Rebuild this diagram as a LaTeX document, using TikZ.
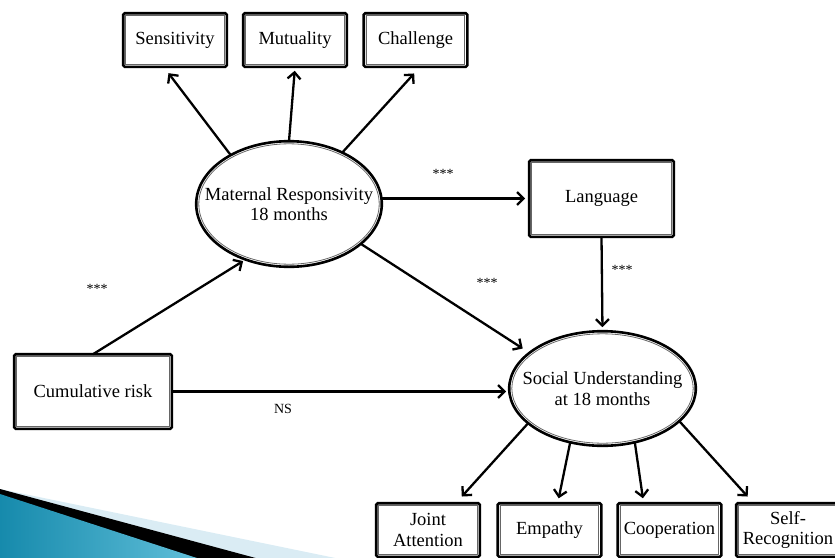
\documentclass[tikz,border=0pt]{standalone}
\usepackage{fontspec}
\setmainfont{Liberation Serif}
\usetikzlibrary{arrows,arrows.meta,shapes.geometric}

\definecolor{swooshlight}{RGB}{218,236,244}
\definecolor{swooshdark}{RGB}{22,138,172}
\definecolor{swooshmid}{RGB}{98,192,218}

\begin{document}
\begin{tikzpicture}[x=1pt,y=-1pt,font=\fontsize{18.5}{20.5}\selectfont]
\tikzstyle{block} = [rectangle, draw=black!60, line width=0.8pt, align=center,
minimum width=98.4pt, minimum height=48.4pt, inner sep=1pt, outer sep=2.6pt]
\tikzstyle{latent} = [ellipse, draw=black!60, line width=0.8pt, align=center,
inner xsep=-30pt, inner ysep=-8pt, outer sep=2.6pt]
\tikzstyle{frame} = [draw=black, line width=2.6pt, rounded corners=1.5pt]
\tikzstyle{stars} = [font=\fontsize{14}{14}\selectfont, inner sep=1pt]
\tikzstyle{line} = [draw, line width=2.3pt, -{Straight Barb[length=6.5pt,width=13pt]}]

\useasboundingbox (0,0) rectangle (835,557);

% slide swoosh
\fill[swooshlight] (0,489) -- (345,560) -- (0,560) -- cycle;
\fill[black] (0,489) -- (263,560) -- (0,560) -- cycle;
\shade[left color=swooshdark, right color=swooshmid] (0,494) -- (203,560) -- (0,560) -- cycle;

% row 1
\node [block] (sens) at (175,40) {Sensitivity};
\node [block] (mutu) at (295,40) {Mutuality};
\node [block] (chal) at (415.5,40) {Challenge};
% row 2
\node [latent, minimum width=180.4pt, minimum height=120.4pt] (mr) at (289,204)
{Maternal Responsivity\\18 months};
\node [block, minimum width=139.4pt, minimum height=71.4pt] (lang) at (601.5,198.5) {Language};
% row 3
\node [block, minimum width=152.4pt, minimum height=69.4pt] (risk) at (93,391.5) {Cumulative risk};
\node [latent, minimum width=181.4pt, minimum height=109.4pt] (su) at (602.5,388.5)
{Social Understanding\\at 18 months};
% row 4
\node [block] (joint) at (428,530) {Joint\\Attention};
\node [block] (empa) at (549.5,530) {Empathy};
\node [block] (coop) at (669.5,530) {Cooperation};
\node [block] (self) at (788,530) {Self-\\Recognition};

% outer frames
\foreach \n in {sens,mutu,chal,lang,risk,joint,empa,coop,self}
  \draw[frame] (\n.south west) rectangle (\n.north east);
\draw[frame] (mr.center) ellipse [x radius=92.8pt, y radius=62.8pt];
\draw[frame] (su.center) ellipse [x radius=93.3pt, y radius=57.3pt];

% path labels
\node [stars] (mrlang) at (443,174) {***};
\node [stars] (mrsu) at (487,283) {***};
\node [stars] (langsu) at (622,270) {***};
\node [stars] (riskmr) at (97,289) {***};
\node [stars] (risksu) at (283,409) {NS};

\tikzstyle{every path}=[line]
\path (mr.140) -- (sens.-113) [shorten >=8pt];
\path (mr.north) -- (mutu.south) [shorten >=4pt];
\path (mr.44) -- (chal.-80) [shorten >=9pt];
\path (mr.east |- lang.west) -- (lang.west) [shorten >=4pt];
\path (lang.south) -- (su.north) [shorten >=4pt];
\path (mr.-29) -- (su.154) [shorten >=8pt];
\path (risk.north) -- (mr.-128) [shorten >=3pt];
\path (risk.east) -- (su.west |- risk.east) [shorten >=3pt];
\path (su.-155) -- (joint.44) [shorten >=9pt];
\path (su.-121) -- (empa.73) [shorten >=5pt];
\path (su.-59) -- (coop.134) [shorten >=5pt];
\path (su.-23) -- (self.142) [shorten >=9pt];

\end{tikzpicture}
\end{document}
